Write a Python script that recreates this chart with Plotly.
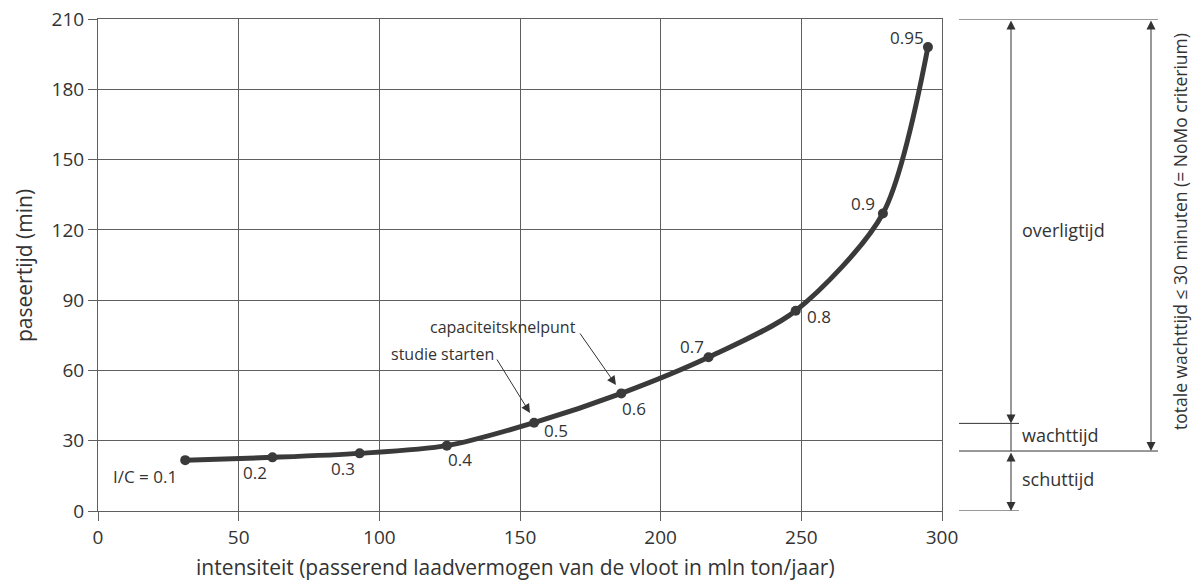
import plotly.graph_objects as go

# ---- data ----
ic_labels = ["I/C = 0.1", "0.2", "0.3", "0.4", "0.5", "0.6", "0.7", "0.8", "0.9", "0.95"]
intensiteit = [31, 62, 93, 124, 155, 186, 217, 248, 279, 295]
paseertijd = [21.7, 22.9, 24.6, 27.9, 37.7, 50.2, 65.6, 85.5, 127.0, 198.0]
x_ticks = [0, 50, 100, 150, 200, 250, 300]
y_ticks = [0, 30, 60, 90, 120, 150, 180, 210]
schuttijd_top = 25.6
wachttijd_top = 37.4

# label offsets of text centres in pixels (dx right, dy down) relative to points
label_offsets = [(-40, 16), (-17, 15), (-17, 15), (13, 14), (22, 8), (13, 15), (-16, -11), (23, 6), (-20, -10), (-21, -10)]

FONT = "Open Sans"
TXT = "#333333"
GRID = "#5f5f5f"
CURVE = "#3a3a3a"

W, H = 1197, 585
PX0, PX1, PY0, PY1 = 98, 942, 19, 511   # plot area in page pixels
PW, PH = PX1 - PX0, PY1 - PY0
L, T = PX0, PY0
R, B = W - L - PW, H - T - PH

def px(xp):
    return (xp - PX0) / PW

def py(yp):
    return (PY1 - yp) / PH

def dx_(xp):
    return (xp - PX0) / PW * 300

def dy_(yp):
    return (PY1 - yp) / PH * 210

fig = go.Figure()
fig.add_trace(go.Scatter(
    x=intensiteit, y=paseertijd, mode="lines+markers",
    line=dict(color=CURVE, width=5, shape="spline", smoothing=0.8),
    marker=dict(color=CURVE, size=10),
    hoverinfo="skip", showlegend=False,
))

annotations = []
for lab, xv, yv, (ox, oy) in zip(ic_labels, intensiteit, paseertijd, label_offsets):
    annotations.append(dict(x=xv, y=yv, xref="x", yref="y", text=lab, showarrow=False,
                            xanchor="center", yanchor="middle",
                            xshift=ox, yshift=-oy, font=dict(family=FONT, size=17, color=TXT)))

# in-plot call-outs: text, tail (page px), head (page px), text centre (page px)
callouts = [
    ("studie starten", (496, 358), (530, 413), (442, 354)),
    ("capaciteitsknelpunt", (579, 332), (616, 385), (503, 327)),
]
for text, (sx, sy), (hx, hy), (tx, ty) in callouts:
    annotations.append(dict(x=dx_(hx), y=dy_(hy), xref="x", yref="y", ax=dx_(sx), ay=dy_(sy),
                            axref="x", ayref="y", showarrow=True, arrowhead=2, arrowsize=1.8,
                            arrowwidth=1, arrowcolor="#333333", text=""))
    annotations.append(dict(x=dx_(tx), y=dy_(ty), xref="x", yref="y", text=text, showarrow=False,
                            xanchor="center", yanchor="middle",
                            font=dict(family=FONT, size=16, color=TXT)))

# right-side dimension lines
shapes = []
def hline(x0p, x1p, yv):
    shapes.append(dict(type="line", xref="paper", yref="y", x0=px(x0p), x1=px(x1p), y0=yv, y1=yv,
                       line=dict(color="#333333", width=1)))

hline(959, 1158, 210)
hline(959, 1019, wachttijd_top)
hline(959, 1158, schuttijd_top)
hline(959, 1019, 0)
shapes.append(dict(type="line", xref="paper", yref="y", x0=px(1011), x1=px(1011), y0=schuttijd_top, y1=wachttijd_top,
                   line=dict(color="#333333", width=1)))

def darrow(xp, y_top, y_bot):
    annotations.append(dict(x=px(xp), y=y_bot, xref="paper", yref="y", ax=0, ay=y_top,
                            axref="pixel", ayref="y", showarrow=True, arrowhead=2, arrowsize=1.8,
                            startarrowhead=2, startarrowsize=1.8, arrowside="end+start",
                            arrowwidth=1, arrowcolor="#333333", text=""))

darrow(1011, 210, wachttijd_top)
darrow(1011, schuttijd_top, 0)
darrow(1151, 210, schuttijd_top)

def rtext(xp, yv, text):
    annotations.append(dict(x=px(xp), y=yv, xref="paper", yref="y", text=text, showarrow=False,
                            xanchor="left", yanchor="middle", font=dict(family=FONT, size=18, color=TXT)))

rtext(1020, 119.9, "overligtijd")
rtext(1020, 32.4, "wachttijd")
rtext(1020, 13.7, "schuttijd")
annotations.append(dict(x=px(1180), y=py(232), xref="paper", yref="paper",
                        xanchor="center", yanchor="middle",
                        text="totale wachttijd ≤ 30 minuten (= NoMo criterium)", showarrow=False,
                        textangle=-90, font=dict(family=FONT, size=17.5, color=TXT)))

# axis titles as annotations for exact placement
annotations.append(dict(x=px(515), y=py(567), xref="paper", yref="paper",
                        xanchor="center", yanchor="middle",
                        text="intensiteit (passerend laadvermogen van de vloot in mln ton/jaar)",
                        showarrow=False, font=dict(family=FONT, size=21, color=TXT)))
annotations.append(dict(x=px(24), y=py(266), xref="paper", yref="paper", text="paseertijd (min)",
                        xanchor="center", yanchor="middle",
                        showarrow=False, textangle=-90, font=dict(family=FONT, size=21, color=TXT)))

axis_common = dict(showgrid=True, gridcolor=GRID, gridwidth=1, showline=True, mirror=True,
                   linecolor=GRID, linewidth=1, ticks="outside", ticklen=9, tickcolor=GRID,
                   zeroline=False, automargin=False, ticklabeloverflow="allow",
                   tickfont=dict(family=FONT, size=19, color=TXT))

fig.update_layout(
    width=W, height=H,
    margin=dict(l=L, r=R, t=T, b=B, pad=0),
    paper_bgcolor="white", plot_bgcolor="white",
    xaxis=dict(range=[0, 300], tickvals=x_ticks, **axis_common),
    yaxis=dict(range=[0, 210], tickvals=y_ticks, **axis_common),
    annotations=annotations,
    shapes=shapes,
)

fig.write_html("out.html", config={"displayModeBar": False},
               post_script="document.body.style.margin='0px';document.body.style.overflow='hidden';")
